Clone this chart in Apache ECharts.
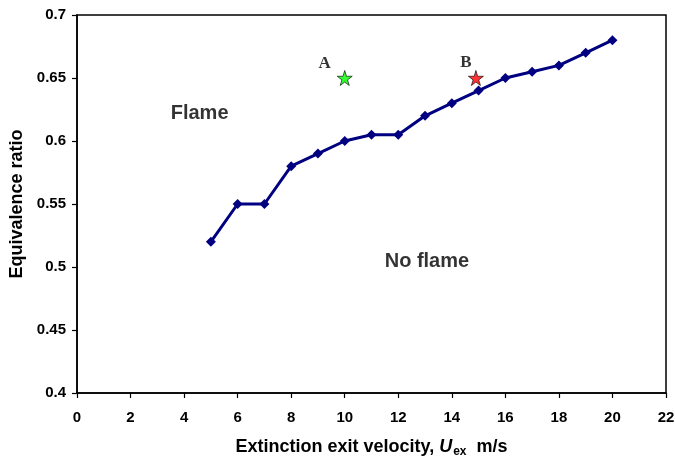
<!DOCTYPE html>
<html>
<head>
<meta charset="utf-8">
<script src="https://cdn.jsdelivr.net/npm/echarts@6/dist/echarts.min.js"></script>
<style>html,body{margin:0;padding:0;background:#fff;}#c{width:675px;height:458px;}</style>
</head>
<body>
<div id="c"></div>
<script>
var velocity = [5, 6, 7, 8, 9, 10, 11, 12, 13, 14, 15, 16, 17, 18, 19, 20];
var ratio = [0.52, 0.55, 0.55, 0.58, 0.59, 0.60, 0.605, 0.605, 0.62, 0.63, 0.64, 0.65, 0.655, 0.66, 0.67, 0.68];
var starNames = ['A', 'B'];
var starX = [10, 14.9];
var starY = [0.65, 0.65];
var regionNames = ['Flame', 'No flame'];
var regionX = [4.58, 13.07];
var regionY = [0.622, 0.504];

var starStyle = {
  A: {color: '#00ff00', offset: [-20, -14]},
  B: {color: '#ff0000', offset: [-10, -15]}
};
var starPath = 'path://M50,0 L61,35 L98,35 L68,57 L79,91 L50,70 L21,91 L32,57 L2,35 L39,35 Z';

var chart = echarts.init(document.getElementById('c'), null, {renderer: 'canvas'});
var font = 'Liberation Sans, Arial, sans-serif';
chart.setOption({
  animation: false,
  backgroundColor: '#fff',
  grid: {left: 77, top: 15, right: 9, bottom: 65, show: true, borderColor: '#000', borderWidth: 1.5,
    containLabel: false, outerBoundsMode: 'none'},
  xAxis: {
    type: 'value', min: 0, max: 22, interval: 2,
    axisLine: {show: true, onZero: false, lineStyle: {color: '#000', width: 1.5}},
    axisTick: {show: true, inside: false, length: 5, lineStyle: {color: '#000', width: 1.2}},
    axisLabel: {color: '#000', fontWeight: 'bold', fontSize: 15, fontFamily: font, margin: 17},
    splitLine: {show: false},
    name: '{a|Extinction exit velocity, }{u|U}{s|ex}{a|  m/s}',
    nameLocation: 'middle', nameGap: 43,
    nameTextStyle: {
      rich: {
        a: {fontSize: 18, fontWeight: 'bold', fontFamily: font, color: '#000', lineHeight: 22},
        u: {fontSize: 18, fontWeight: 'bold', fontStyle: 'italic', fontFamily: font, color: '#000', lineHeight: 22},
        s: {fontSize: 12, fontWeight: 'bold', fontFamily: font, color: '#000', lineHeight: 22, padding: [10, 0, 0, 1]}
      }
    }
  },
  yAxis: {
    type: 'value', min: 0.4, max: 0.7, interval: 0.05,
    axisLine: {show: true, lineStyle: {color: '#000', width: 1.5}},
    axisTick: {show: true, inside: false, length: 5, lineStyle: {color: '#000', width: 1.2}},
    axisLabel: {color: '#000', fontWeight: 'bold', fontSize: 15, fontFamily: font, margin: 11,
      formatter: function (v) { return String(parseFloat(v.toFixed(2))); }},
    splitLine: {show: false},
    name: 'Equivalence ratio', nameLocation: 'middle', nameGap: 47,
    nameTextStyle: {fontSize: 18, fontWeight: 'bold', fontFamily: font, color: '#000'}
  },
  series: [
    {
      type: 'line',
      data: velocity.map(function (x, i) { return [x, ratio[i]]; }),
      symbol: 'diamond', symbolSize: 10,
      lineStyle: {color: '#000080', width: 3},
      itemStyle: {color: '#000080'},
      z: 3
    },
    {
      type: 'scatter',
      data: starNames.map(function (n, i) {
        return {value: [starX[i], starY[i]], name: n,
          itemStyle: {color: starStyle[n].color},
          label: {offset: starStyle[n].offset}};
      }),
      symbol: starPath, symbolSize: 15,
      itemStyle: {borderColor: '#000', borderWidth: 0.8},
      label: {show: true, formatter: '{b}', position: 'inside',
        fontFamily: 'Liberation Serif, Times New Roman, serif', fontWeight: 'bold', fontSize: 17,
        color: '#000', textBorderWidth: 0},
      z: 4
    },
    {
      type: 'scatter',
      data: regionNames.map(function (n, i) { return {value: [regionX[i], regionY[i]], name: n}; }),
      symbolSize: 0,
      label: {show: true, formatter: '{b}', position: 'inside',
        fontFamily: font, fontWeight: 'bold', fontSize: 20, color: '#000', textBorderWidth: 0},
      z: 5
    }
  ]
});
</script>
</body>
</html>
